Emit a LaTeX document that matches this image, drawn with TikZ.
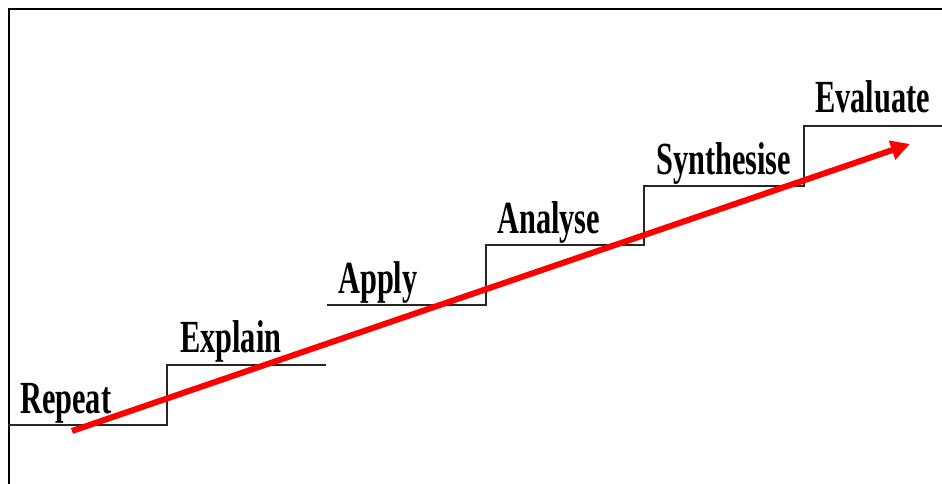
\documentclass[tikz,border=0pt]{standalone}
\usepackage{fontspec}
\setmainfont{Liberation Serif}
\newfontfamily\stairfont{Liberation Serif}[FakeStretch=0.66]
\usetikzlibrary{arrows.meta}

\begin{document}
\begin{tikzpicture}[x=1pt, y=-1pt,
  level/.style={anchor=base west, inner sep=0pt,
    font=\stairfont\bfseries\fontsize{46}{50}\selectfont},
  stair/.style={line width=1.8pt, black!85},
  frame/.style={line width=2pt},
  climb/.style={-{Triangle[length=19pt,width=19pt]}, line width=6pt, red}
]
  \useasboundingbox (0,0) rectangle (942,484);
  \draw[frame] (8.5,484) |- (942,9.5);

  % the stairs
  \draw[stair] (8,425) -- (167,425) -- (167,365) -- (326,365);
  \draw[stair] (327,305) -- (486,305) -- (486,245) -- (644,245)
    -- (644,186) -- (804,186) -- (804,126) -- (942,126);

  \node[level] (repeat) at (20,413) {Repeat};
  \node[level] (explain) at (180,352) {Explain};
  \node[level] (apply) at (338,293) {Apply};
  \node[level] (analyse) at (497,233) {Analyse};
  \node[level] (synth) at (656,174) {Synthesise};
  \node[level] (evaluate) at (815,113) {Evaluate};

  \coordinate (low) at (72,431);
  \coordinate (high) at (910,144);
  \draw[climb] (low) -- (high);
\end{tikzpicture}
\end{document}
